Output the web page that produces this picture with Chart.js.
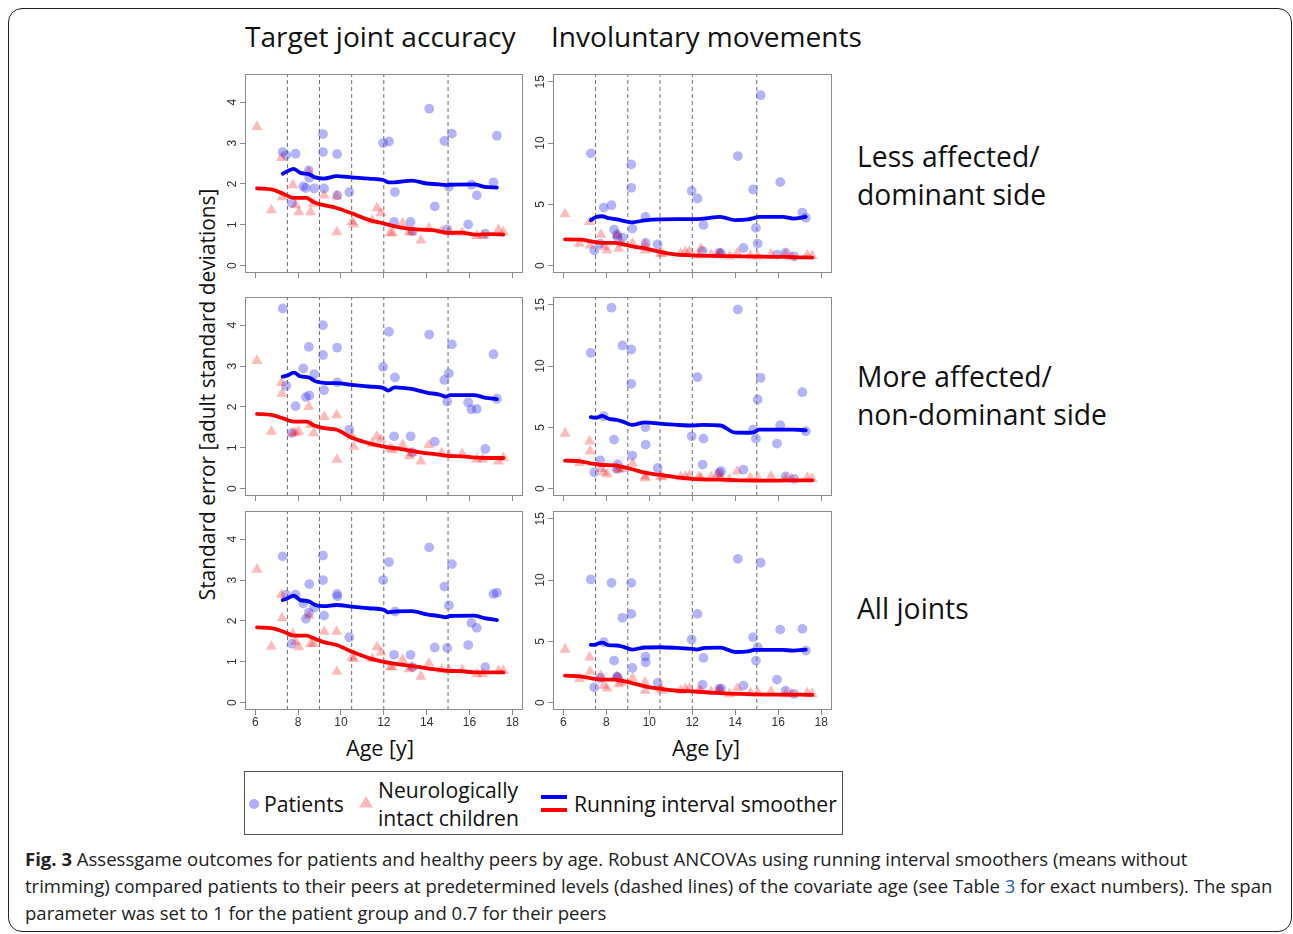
<!DOCTYPE html>
<html><head><meta charset="utf-8">
<script src="https://cdn.jsdelivr.net/npm/chart.js@4.4.1/dist/chart.umd.min.js"></script>
<style>
html,body{margin:0;padding:0;background:#fff;width:1293px;height:934px;overflow:hidden;position:relative;}
#frame{position:absolute;left:8px;top:8px;width:1284px;height:924px;border:1.3px solid #222;border-radius:14px;box-sizing:border-box;}
.t{position:absolute;white-space:nowrap;font-family:"Open Sans",sans-serif;color:#111;line-height:1;}
canvas{position:absolute;}
#legbox{position:absolute;left:244px;top:771px;width:599px;height:64px;border:1px solid #555;box-sizing:border-box;}
.cap{position:absolute;white-space:nowrap;font-family:"Open Sans",sans-serif;color:#222;line-height:1;}
</style></head><body>
<div id="frame"></div>

<div class="t" id="tt1">Target joint accuracy</div>
<div class="t" id="tt2">Involuntary movements</div>
<div class="t" id="r1a">Less affected/</div>
<div class="t" id="r1b">dominant side</div>
<div class="t" id="r2a">More affected/</div>
<div class="t" id="r2b">non-dominant side</div>
<div class="t" id="r3a">All joints</div>
<div class="t" id="ax1">Age [y]</div>
<div class="t" id="ax2">Age [y]</div>
<div class="t" id="ytitle">Standard error [adult standard deviations]</div>

<div id="legbox"></div>
<div style="position:absolute;left:249px;top:799px;width:10px;height:10px;border-radius:50%;background:rgba(40,40,240,0.38);"></div>
<svg style="position:absolute;left:359px;top:796px;" width="14" height="12"><polygon points="7,0 14,11.5 0,11.5" fill="rgba(255,0,0,0.28)"/></svg>
<div style="position:absolute;left:541px;top:795px;width:26px;height:4px;background:#0000ff;"></div>
<div style="position:absolute;left:541px;top:808px;width:26px;height:4px;background:#ff0000;"></div>
<div class="t" id="lg1">Patients</div>
<div class="t" id="lg2">Neurologically</div>
<div class="t" id="lg3">intact children</div>
<div class="t" id="lg4">Running interval smoother</div>

<div class="cap" id="cap1"><b>Fig. 3</b> Assessgame outcomes for patients and healthy peers by age. Robust ANCOVAs using running interval smoothers (means without</div>
<div class="cap" id="cap2">trimming) compared patients to their peers at predetermined levels (dashed lines) of the covariate age (see Table <span style="color:#1f5fbf">3</span> for exact numbers). The span</div>
<div class="cap" id="cap3">parameter was set to 1 for the patient group and 0.7 for their peers</div>

<canvas id="c1"></canvas><canvas id="c2"></canvas>
<canvas id="c3"></canvas><canvas id="c4"></canvas>
<canvas id="c5"></canvas><canvas id="c6"></canvas>

<script>
// ---------------- DATA ----------------
const ageTicks = [6, 8, 10, 12, 14, 16, 18];
const tjaTicks = [0, 1, 2, 3, 4];
const imTicks = [0, 5, 10, 15];
const cutAges = [7.5, 9, 10.5, 12, 15];

const patientAge = [7.28, 7.44, 7.71, 7.88, 8.24, 8.36, 8.50, 8.52, 8.75, 9.16, 9.16, 9.21, 9.82, 9.83, 10.39, 11.97, 12.24, 12.48, 12.52, 13.25, 13.34, 14.12, 14.38, 14.83, 14.96, 15.04, 15.18, 15.94, 16.09, 16.34, 16.74, 17.12, 17.28];
const peerAge = [6.08, 6.75, 7.22, 7.25, 7.75, 7.88, 8.03, 8.50, 8.58, 8.72, 9.22, 9.80, 9.81, 10.52, 10.60, 11.46, 11.68, 11.87, 12.30, 12.40, 12.88, 13.19, 13.30, 13.73, 14.10, 14.70, 15.05, 15.66, 16.34, 16.62, 17.35, 17.58];

const tjaLessPatients = [2.78, 2.70, 1.53, 2.74, 1.94, 1.90, 2.33, 2.15, 1.89, 3.22, 2.78, 1.89, 2.73, 1.72, 1.80, 3.00, 3.04, 1.07, 1.80, 1.07, 0.84, 3.84, 1.45, 3.05, 0.89, 1.93, 3.23, 1.01, 1.98, 1.72, 0.78, 2.04, 3.18];
const tjaMorePatients = [4.41, 2.52, 1.36, 2.02, 2.94, 2.24, 3.47, 2.28, 2.80, 4.00, 3.27, 2.41, 3.45, 2.60, 1.44, 2.98, 3.84, 1.28, 2.72, 1.28, 0.89, 3.77, 1.15, 2.66, 2.13, 2.82, 3.53, 2.11, 1.94, 1.95, 0.97, 3.29, 2.20];
const tjaAllPatients = [3.58, 2.64, 1.44, 2.64, 2.43, 2.05, 2.20, 2.90, 2.33, 3.60, 3.00, 2.13, 2.66, 2.60, 1.60, 3.00, 3.44, 1.17, 2.23, 1.17, 0.87, 3.80, 1.35, 2.84, 1.34, 2.38, 3.39, 1.41, 1.95, 1.83, 0.87, 2.66, 2.69];
const imLessPatients = [9.16, 1.25, 1.80, 4.74, 4.93, 2.94, 2.53, 2.34, 2.29, 8.26, 6.35, 3.02, 3.98, 1.85, 1.74, 6.10, 5.48, 1.20, 3.32, 1.06, 1.00, 8.94, 1.44, 6.21, 3.08, 1.80, 13.90, 0.90, 6.81, 1.06, 0.76, 4.33, 3.90];
const imMorePatients = [11.08, 1.33, 2.31, 5.91, 14.76, 4.00, 1.60, 2.00, 11.68, 11.35, 8.55, 2.70, 5.00, 3.59, 1.69, 4.27, 9.09, 1.96, 4.08, 1.28, 1.42, 14.62, 1.55, 4.82, 4.08, 7.27, 9.04, 3.68, 5.17, 1.00, 0.79, 7.87, 4.68];
const imAllPatients = [10.05, 1.25, 2.01, 4.93, 9.77, 3.43, 2.07, 2.10, 6.92, 9.77, 7.24, 2.83, 3.76, 3.29, 1.61, 5.15, 7.24, 1.47, 3.65, 1.12, 1.15, 11.73, 1.39, 5.34, 3.43, 4.52, 11.41, 1.88, 5.96, 0.98, 0.71, 6.02, 4.25];

const tjaLessPeers = [3.40, 1.36, 2.64, 1.68, 1.97, 1.48, 1.31, 2.29, 1.31, 1.52, 1.72, 1.70, 0.82, 1.07, 1.01, 1.11, 1.41, 1.29, 0.80, 0.80, 1.04, 0.82, 0.82, 0.62, 0.91, 0.85, 0.82, 0.81, 0.73, 0.73, 0.88, 0.82];
const tjaMorePeers = [3.13, 1.40, 2.59, 2.33, 1.36, 1.37, 1.40, 2.00, 1.56, 1.36, 1.76, 1.80, 0.71, 1.28, 1.03, 1.10, 1.28, 1.20, 0.99, 0.95, 1.07, 0.80, 0.87, 0.67, 1.07, 0.87, 0.83, 0.85, 0.72, 0.72, 0.67, 0.75];
const tjaAllPeers = [3.26, 1.37, 2.64, 2.07, 1.68, 1.49, 1.36, 2.13, 1.44, 1.44, 1.74, 1.74, 0.76, 1.11, 1.07, 1.07, 1.36, 1.23, 0.87, 0.87, 1.05, 0.82, 0.87, 0.64, 0.96, 0.81, 0.80, 0.80, 0.70, 0.70, 0.78, 0.78];
const imLessPeers = [4.20, 1.80, 3.57, 1.66, 2.53, 1.53, 1.25, 2.48, 1.39, 1.80, 1.80, 1.74, 1.25, 0.98, 0.98, 0.98, 1.12, 1.17, 0.84, 1.39, 0.90, 0.84, 0.98, 0.76, 1.04, 0.79, 0.76, 0.93, 0.93, 0.71, 0.84, 0.79];
const imMorePeers = [4.49, 2.10, 3.87, 3.05, 1.61, 1.33, 1.20, 1.69, 1.55, 1.61, 2.04, 1.00, 0.87, 1.00, 0.95, 0.95, 1.00, 1.06, 0.95, 0.87, 0.95, 1.20, 1.00, 0.74, 1.42, 0.87, 0.87, 1.00, 0.79, 0.79, 0.87, 0.79];
const imAllPeers = [4.33, 1.94, 3.70, 2.53, 2.20, 1.39, 1.17, 2.15, 1.52, 1.66, 1.99, 1.66, 0.98, 1.12, 0.98, 0.98, 1.12, 1.17, 0.98, 0.98, 0.90, 0.90, 1.03, 0.71, 1.17, 0.79, 0.79, 0.90, 0.71, 0.71, 0.79, 0.71];

const smoothPatientAge = [7.28, 7.5, 7.8, 8.1, 8.5, 8.8, 9.2, 9.8, 10.5, 11.3, 12.0, 12.2, 12.5, 13.3, 14.0, 14.6, 14.9, 15.1, 16.2, 16.7, 17.28];
const tjaLessSmoothP = [2.25, 2.31, 2.37, 2.27, 2.24, 2.16, 2.13, 2.19, 2.16, 2.13, 2.09, 2.04, 2.04, 2.08, 2.01, 1.99, 1.97, 1.98, 1.99, 1.93, 1.91];
const tjaMoreSmoothP = [2.74, 2.77, 2.84, 2.75, 2.72, 2.63, 2.59, 2.58, 2.54, 2.50, 2.46, 2.40, 2.48, 2.44, 2.35, 2.30, 2.25, 2.29, 2.29, 2.23, 2.19];
const tjaAllSmoothP = [2.51, 2.55, 2.62, 2.51, 2.48, 2.39, 2.36, 2.39, 2.35, 2.31, 2.27, 2.21, 2.23, 2.24, 2.16, 2.12, 2.09, 2.12, 2.13, 2.07, 2.02];
const imLessSmoothP = [3.71, 3.95, 4.03, 3.87, 3.77, 3.65, 3.53, 3.70, 3.78, 3.79, 3.79, 3.80, 3.83, 3.98, 3.72, 3.78, 3.90, 3.98, 3.98, 3.84, 3.98];
const imMoreSmoothP = [5.83, 5.77, 5.93, 5.70, 5.60, 5.45, 5.20, 5.41, 5.30, 5.20, 5.15, 5.17, 5.20, 5.15, 4.57, 4.56, 4.62, 4.82, 4.82, 4.82, 4.76];
const imAllSmoothP = [4.71, 4.74, 4.90, 4.70, 4.66, 4.55, 4.33, 4.50, 4.52, 4.46, 4.38, 4.33, 4.44, 4.48, 4.13, 4.18, 4.30, 4.31, 4.30, 4.25, 4.33];

const smoothPeerAge = [6.08, 6.8, 7.3, 7.8, 8.4, 8.7, 9.2, 9.8, 10.5, 11.3, 12.0, 12.8, 13.7, 14.3, 15.0, 15.6, 16.3, 17.0, 17.58];
const tjaLessSmoothC = [1.89, 1.86, 1.76, 1.66, 1.66, 1.56, 1.48, 1.41, 1.28, 1.12, 1.03, 0.93, 0.88, 0.87, 0.80, 0.81, 0.76, 0.77, 0.76];
const tjaMoreSmoothC = [1.83, 1.80, 1.72, 1.64, 1.64, 1.56, 1.48, 1.44, 1.25, 1.11, 1.03, 0.97, 0.89, 0.85, 0.80, 0.79, 0.76, 0.75, 0.75];
const tjaAllSmoothC = [1.84, 1.82, 1.74, 1.64, 1.64, 1.58, 1.48, 1.41, 1.25, 1.09, 1.00, 0.93, 0.87, 0.82, 0.78, 0.77, 0.74, 0.74, 0.74];
const imLessSmoothC = [2.15, 2.13, 1.98, 1.86, 1.85, 1.78, 1.58, 1.41, 1.12, 0.90, 0.84, 0.80, 0.77, 0.76, 0.76, 0.72, 0.71, 0.68, 0.66];
const imMoreSmoothC = [2.29, 2.23, 2.05, 1.93, 1.90, 1.80, 1.58, 1.30, 1.12, 0.92, 0.79, 0.74, 0.72, 0.68, 0.66, 0.65, 0.67, 0.68, 0.68];
const imAllSmoothC = [2.20, 2.15, 1.98, 1.88, 1.88, 1.80, 1.60, 1.33, 1.14, 0.97, 0.92, 0.82, 0.74, 0.71, 0.67, 0.66, 0.65, 0.65, 0.63];

// ---------------- TEXT LAYOUT ----------------
function measure(el){ el.style.fontSize='100px'; return el.getBoundingClientRect().width; }
function fit(id, w){ return 100 * w / measure(document.getElementById(id)); }
function place(id, x, base, size){
  const el = document.getElementById(id);
  el.style.fontSize = size + 'px';
  el.style.left = x + 'px';
  el.style.top = (base - 0.888 * size) + 'px';
}
const sTitle = fit('tt2', 311);
place('tt1', 245, 47, sTitle); place('tt2', 551, 47, sTitle);
const sRow = fit('r2b', 250);
place('r1a', 857, 167, sRow); place('r1b', 857, 205, sRow);
place('r2a', 857, 387, sRow); place('r2b', 857, 425, sRow);
place('r3a', 857, 619, sRow);
const sAge = fit('ax1', 68);
place('ax1', 346, 756, sAge); place('ax2', 672, 756, sAge);
const sLeg = fit('lg4', 263);
place('lg1', 264, 812, sLeg); place('lg2', 378, 798, sLeg);
place('lg3', 378, 826, sLeg); place('lg4', 574, 812, sLeg);
const sCap = fit('cap2', 1248);
place('cap1', 25, 866, sCap); place('cap2', 25, 893, sCap); place('cap3', 25, 920, sCap);
(function(){
  const el = document.getElementById('ytitle');
  const w0 = measure(el); const s = 100 * 412 / w0;
  el.style.fontSize = s + 'px';
  const W = el.getBoundingClientRect().width;
  el.style.left = (208 - W / 2) + 'px';
  el.style.top = (394 - s / 2) + 'px';
  el.style.transformOrigin = '50% 50%';
  el.style.transform = 'rotate(-90deg)';
})();

// ---------------- CHARTS ----------------
const boxPlugin = {
  id: 'rbox',
  afterDraw(chart){
    const {ctx, chartArea: a} = chart;
    ctx.save();
    ctx.strokeStyle = '#8c8c8c'; ctx.lineWidth = 1;
    ctx.strokeRect(Math.round(a.left) + 0.5, Math.round(a.top) + 0.5, Math.round(a.right - a.left) - 1, Math.round(a.bottom - a.top) - 1);
    const ys = chart.scales.y;
    ctx.fillStyle = '#333';
    ctx.font = '12px "Liberation Sans", Arial, sans-serif';
    ctx.textAlign = 'center'; ctx.textBaseline = 'alphabetic';
    ys.ticks.forEach(tk => {
      const py = ys.getPixelForValue(tk.value);
      ctx.save(); ctx.translate(a.left - 9, py); ctx.rotate(-Math.PI / 2);
      ctx.fillText(String(tk.value), 0, 0); ctx.restore();
    });
    ctx.restore();
  }
};

function zip(xs, ys){ return xs.map((x, i) => ({x: x, y: ys[i]})); }

const COL = [{l: 245, w: 278}, {l: 553, w: 279}];
const ROW = [74, 297, 511];
const PH = 199;
const panels = [
  {id: 'c1', c: 0, r: 0, lo: -0.18, hi: 4.68, yt: tjaTicks, p: tjaLessPatients, q: tjaLessPeers, sp: tjaLessSmoothP, sc: tjaLessSmoothC},
  {id: 'c2', c: 1, r: 0, lo: -0.6, hi: 15.6, yt: imTicks, p: imLessPatients, q: imLessPeers, sp: imLessSmoothP, sc: imLessSmoothC},
  {id: 'c3', c: 0, r: 1, lo: -0.18, hi: 4.68, yt: tjaTicks, p: tjaMorePatients, q: tjaMorePeers, sp: tjaMoreSmoothP, sc: tjaMoreSmoothC},
  {id: 'c4', c: 1, r: 1, lo: -0.6, hi: 15.6, yt: imTicks, p: imMorePatients, q: imMorePeers, sp: imMoreSmoothP, sc: imMoreSmoothC},
  {id: 'c5', c: 0, r: 2, lo: -0.18, hi: 4.68, yt: tjaTicks, p: tjaAllPatients, q: tjaAllPeers, sp: tjaAllSmoothP, sc: tjaAllSmoothC},
  {id: 'c6', c: 1, r: 2, lo: -0.6, hi: 15.6, yt: imTicks, p: imAllPatients, q: imAllPeers, sp: imAllSmoothP, sc: imAllSmoothC}
];

const PADL = 40, PADT = 6, PADR = 6, PADB = 30;
panels.forEach(pn => {
  const col = COL[pn.c], top = ROW[pn.r];
  const cv = document.getElementById(pn.id);
  const W = col.w + PADL + PADR, H = PH + PADT + PADB;
  cv.width = W; cv.height = H;
  cv.style.width = W + 'px'; cv.style.height = H + 'px';
  cv.style.left = (col.l - PADL) + 'px'; cv.style.top = (top - PADT) + 'px';

  const ds = [];
  ds.push({type: 'line', data: zip(smoothPatientAge, pn.sp), borderColor: '#0000ff', borderWidth: 3.8,
    pointRadius: 0, fill: false, cubicInterpolationMode: 'monotone', borderCapStyle: 'round', borderJoinStyle: 'round', order: 0});
  ds.push({type: 'line', data: zip(smoothPeerAge, pn.sc), borderColor: '#ff0000', borderWidth: 3.8,
    pointRadius: 0, fill: false, cubicInterpolationMode: 'monotone', borderCapStyle: 'round', borderJoinStyle: 'round', order: 0});
  cutAges.forEach(a => ds.push({type: 'line', data: [{x: a, y: pn.lo}, {x: a, y: pn.hi}], borderColor: '#6e6e6e',
    borderWidth: 1, borderDash: [4, 3], pointRadius: 0, fill: false, order: 1}));
  ds.push({type: 'scatter', data: zip(peerAge, pn.q), pointStyle: 'triangle', pointRadius: 6.4,
    pointBackgroundColor: 'rgba(255,0,0,0.27)', backgroundColor: 'rgba(255,0,0,0.27)', pointBorderWidth: 0, borderWidth: 0,
    pointBorderColor: 'rgba(0,0,0,0)', order: 2});
  ds.push({type: 'scatter', data: zip(patientAge, pn.p), pointStyle: 'circle', pointRadius: 4.9,
    pointBackgroundColor: 'rgba(40,40,240,0.35)', backgroundColor: 'rgba(40,40,240,0.35)', pointBorderWidth: 0, borderWidth: 0,
    pointBorderColor: 'rgba(0,0,0,0)', order: 3});

  new Chart(cv, {
    type: 'scatter',
    data: {datasets: ds},
    plugins: [boxPlugin],
    options: {
      responsive: false, animation: false, events: [],
      layout: {padding: {left: 0, top: PADT, right: PADR, bottom: 0}},
      plugins: {legend: {display: false}, tooltip: {enabled: false}},
      scales: {
        x: {
          type: 'linear', min: 5.52, max: 18.48,
          afterBuildTicks: s => { s.ticks = ageTicks.map(v => ({value: v})); },
          afterFit: s => { s.height = PADB; },
          border: {display: false},
          grid: {display: true, drawOnChartArea: false, drawTicks: true, tickLength: 5, color: '#8c8c8c', lineWidth: 1},
          ticks: {display: pn.r === 2, padding: 0, color: '#333', font: {family: '"Liberation Sans", Arial, sans-serif', size: 12},
            maxRotation: 0, minRotation: 0, callback: v => String(v)}
        },
        y: {
          type: 'linear', min: pn.lo, max: pn.hi,
          afterBuildTicks: s => { s.ticks = pn.yt.map(v => ({value: v})); },
          afterFit: s => { s.width = PADL; },
          border: {display: false},
          grid: {display: true, drawOnChartArea: false, drawTicks: true, tickLength: 5, color: '#8c8c8c', lineWidth: 1},
          ticks: {display: false}
        }
      }
    }
  });
});
</script>
</body></html>
